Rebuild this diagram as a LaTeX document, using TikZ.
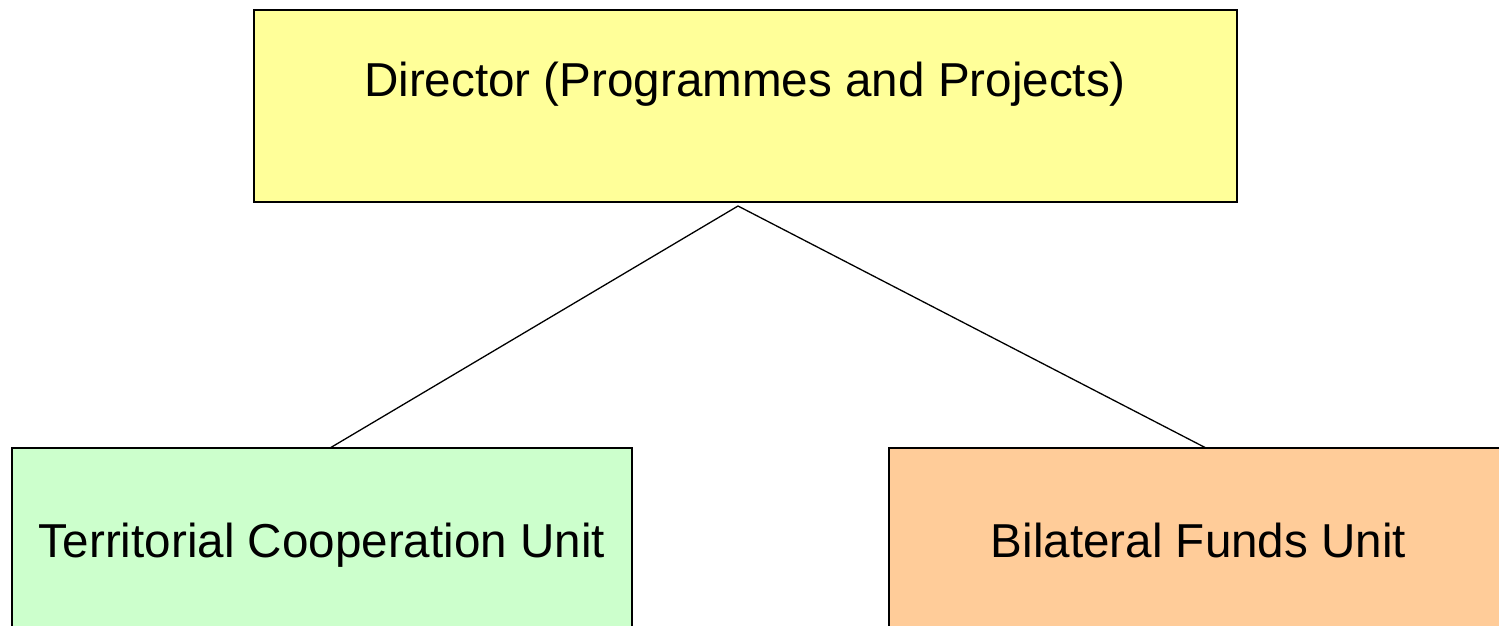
\documentclass[tikz,border=0pt]{standalone}
\usepackage{fontspec}
\setmainfont{Liberation Sans}
\definecolor{dirfill}{HTML}{FFFF99}
\definecolor{tcufill}{HTML}{CCFFCC}
\definecolor{bfufill}{HTML}{FFCC99}
\begin{document}
\begin{tikzpicture}[x=1pt,y=-1pt,
  unitbox/.style={draw=black,line width=1.3pt,rectangle,inner sep=0pt},
  lbl/.style={font=\fontsize{47.6}{56}\selectfont,anchor=base,inner sep=0pt},
  link/.style={draw=black,line width=1.3pt}]
\useasboundingbox (0,0) rectangle (1499,626);
\begin{scope}
\clip (0,0) rectangle (1499,626);
\node[unitbox,fill=dirfill,minimum width=983pt,minimum height=192pt] (dir) at (745.5,106) {};
\node[unitbox,fill=tcufill,minimum width=620pt,minimum height=240pt] (tcu) at (322,568) {};
\node[unitbox,fill=bfufill,minimum width=620pt,minimum height=240pt] (bfu) at (1199,568) {};
\end{scope}
\node[lbl] (dirl) at (745,96) {Director (Programmes and Projects)};
\node[lbl] (tcul) at (322,557) {Territorial Cooperation Unit};
\node[lbl] (bful) at (1198.5,557) {Bilateral Funds Unit};
\coordinate (apex) at (738,206);
\coordinate (tcutop) at (330,448);
\coordinate (bfutop) at (1206,448);
\draw[link] (tcutop) -- (apex) -- (bfutop);
\end{tikzpicture}
\end{document}
